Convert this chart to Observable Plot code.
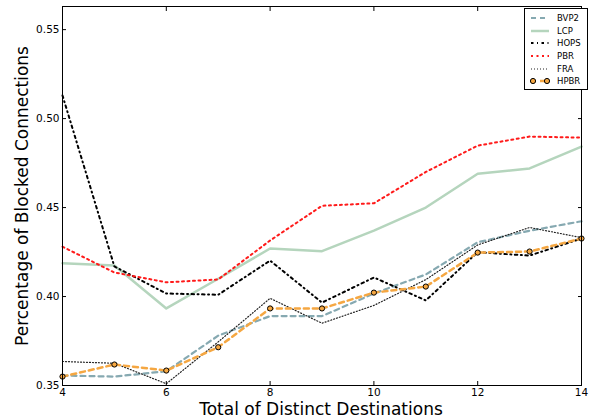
<!DOCTYPE html>
<html>
<head>
<meta charset="utf-8">
<script src="https://cdn.jsdelivr.net/npm/d3@7"></script>
<script src="https://cdn.jsdelivr.net/npm/@observablehq/plot@0.6"></script>
<style>
html,body{margin:0;padding:0;background:#fff;}
#wrap{position:relative;width:597px;height:418px;font-family:"DejaVu Sans",sans-serif;}
#legend{position:absolute;left:524px;top:8px;width:64px;height:82px;border:1px solid #000;background:#fff;box-sizing:border-box;font-size:8.5px;padding:3px 0 0 4px;}
#legend .row{display:flex;align-items:center;height:12.6px;}
#legend svg{margin-right:6px;}
</style>
</head>
<body>
<div id="wrap"><div id="chart"></div><div id="legend"></div></div>
<script>
const destinations = [4,5,6,7,8,9,10,11,12,13,14];
const BVP2 = [0.3556,0.355,0.358,0.378,0.389,0.389,0.4017,0.4124,0.4305,0.437,0.4423];
const LCP  = [0.4187,0.4174,0.3933,0.410,0.427,0.4255,0.437,0.450,0.469,0.472,0.4843];
const HOPS = [0.513,0.4169,0.4017,0.401,0.4202,0.3966,0.4107,0.3978,0.4249,0.423,0.4326];
const PBR  = [0.428,0.4135,0.408,0.4096,0.4315,0.451,0.4524,0.470,0.4848,0.4899,0.4893];
const FRA  = [0.3635,0.3625,0.351,0.3745,0.399,0.385,0.395,0.4095,0.429,0.4388,0.4331];
const HPBR = [0.355,0.3618,0.3584,0.3715,0.3933,0.3933,0.4022,0.4056,0.4247,0.4253,0.4326];
const xTicks = [4,6,8,10,12,14];
const yTicks = [0.35,0.40,0.45,0.50,0.55];

const series = [
  {name:"BVP2", values:BVP2, stroke:"#86a9b1", width:2.2, dash:"5,4"},
  {name:"LCP",  values:LCP,  stroke:"#b5d5bd", width:2.5, dash:null},
  {name:"HOPS", values:HOPS, stroke:"#000", width:2, dash:"2.5,3.5,1,3.5"},
  {name:"PBR",  values:PBR,  stroke:"#ff1a1a", width:2, dash:"2,3.5"},
  {name:"FRA",  values:FRA,  stroke:"#222", width:1.2, dash:"1,2"},
  {name:"HPBR", values:HPBR, stroke:"#f5a742", width:2.5, dash:"5,4"}
];

const rows = s => destinations.map((d,i)=>({x:d, y:s.values[i]}));
const marks = [];
for (const s of series) {
  marks.push(Plot.line(rows(s), {x:"x", y:"y", stroke:s.stroke, strokeWidth:s.width, strokeDasharray:s.dash}));
}
marks.push(Plot.dot(rows(series[5]), {x:"x", y:"y", r:2.6, fill:"#f5a742", stroke:"#000", strokeWidth:1}));
marks.push(Plot.frame({stroke:"#000", strokeWidth:1}));
const noText = () => "";
marks.push(Plot.axisX(xTicks, {anchor:"bottom", tickSize:0, tickPadding:3, fontSize:10.5, label:null}));
marks.push(Plot.axisX(xTicks, {anchor:"bottom", tickSize:-4, tickFormat:noText, label:null}));
marks.push(Plot.axisX(xTicks, {anchor:"top", tickSize:-4, tickFormat:noText, label:null}));
marks.push(Plot.axisY(yTicks, {anchor:"left", tickSize:0, tickPadding:3, fontSize:10.5, tickFormat:".2f", label:null}));
marks.push(Plot.axisY(yTicks, {anchor:"left", tickSize:-4, tickFormat:noText, label:null}));
marks.push(Plot.axisY(yTicks, {anchor:"right", tickSize:-4, tickFormat:noText, label:null}));

const chart = Plot.plot({
  width:597, height:418,
  marginLeft:62, marginRight:16, marginTop:6, marginBottom:33,
  style:{fontFamily:"DejaVu Sans, sans-serif", background:"#fff", color:"#000"},
  x:{domain:[4,14]},
  y:{domain:[0.35,0.563]},
  marks
});
document.getElementById("chart").appendChild(chart);

// axis titles
const svg = d3.select(chart);
svg.append("text").attr("x", 321).attr("y", 415).attr("text-anchor","middle")
  .attr("font-size", 17).attr("font-family","DejaVu Sans, sans-serif").text("Total of Distinct Destinations");
svg.append("text").attr("transform","translate(28,196) rotate(-90)").attr("text-anchor","middle")
  .attr("font-size", 17).attr("font-family","DejaVu Sans, sans-serif").text("Percentage of Blocked Connections");

// legend
const leg = d3.select("#legend");
for (const s of series) {
  const row = leg.append("div").attr("class","row");
  const sw = row.append("svg").attr("width",22).attr("height",10);
  sw.append("line").attr("x1",2).attr("x2",20).attr("y1",5).attr("y2",5)
    .attr("stroke",s.stroke).attr("stroke-width",s.width).attr("stroke-dasharray",s.dash);
  if (s.name==="HPBR") {
    sw.append("circle").attr("cx",4).attr("cy",5).attr("r",2.6).attr("fill","#f5a742").attr("stroke","#000");
    sw.append("circle").attr("cx",18).attr("cy",5).attr("r",2.6).attr("fill","#f5a742").attr("stroke","#000");
  }
  row.append("span").text(s.name);
}
</script>
</body>
</html>
